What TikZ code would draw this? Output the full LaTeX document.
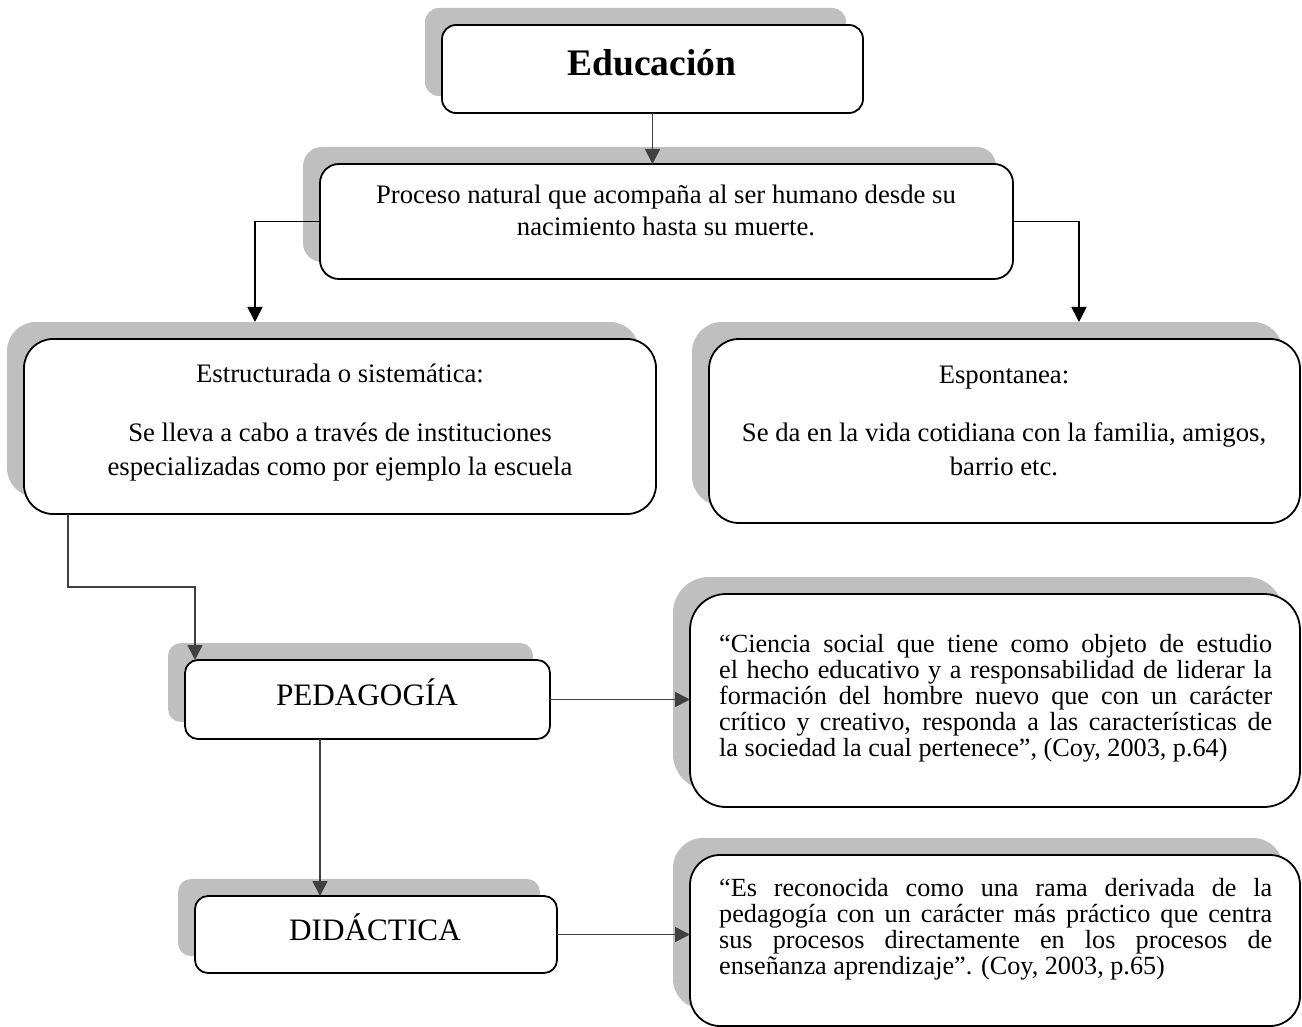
\documentclass[tikz,border=0pt]{standalone}
\usepackage{fontspec}
\setmainfont{Liberation Serif}
\usetikzlibrary{arrows.meta}
\definecolor{shd}{HTML}{BFBFBF}
\definecolor{arrg}{HTML}{404040}
\tikzset{
  box/.style={draw=black, line width=1.8pt, fill=white, rectangle, inner sep=0pt, outer sep=0pt},
  shbox/.style={fill=shd, rectangle, inner sep=0pt, outer sep=0pt},
  txt/.style={inner sep=0pt, anchor=base, font=\fontsize{26.7}{32}\selectfont},
  qtxt/.style={inner sep=0pt, anchor=base west, font=\fontsize{26.2}{30}\selectfont},
  big/.style={inner sep=0pt, anchor=base, font=\fontsize{31.2}{36}\selectfont},
  arr/.style={line width=1.7pt, draw=black, -{Triangle[width=15pt,length=15pt]}},
  garr/.style={line width=1.7pt, draw=arrg, -{Triangle[width=15pt,length=15pt]}},
}
\newcommand\mkbox[6]{%
  \node[shbox, rounded corners=#6, minimum width={#4-#2}, minimum height={#5-#3}] (#1sh) at ({(#2+#4)/2-17},{(#3+#5)/2-17}) {};
  \node[box, rounded corners=#6, minimum width={#4-#2}, minimum height={#5-#3}] (#1) at ({(#2+#4)/2},{(#3+#5)/2}) {};}
\begin{document}
\begin{tikzpicture}[x=1pt,y=-1pt]
\useasboundingbox (0,0) rectangle (1302,1027);
% boxes
\mkbox{edu}{442}{25}{863}{113}{14}
\mkbox{proc}{320}{164}{1013}{279}{19}
\mkbox{estr}{24}{339}{656}{514}{29}
\mkbox{esp}{709}{339}{1300}{523}{30}
\mkbox{ped}{185}{660}{550}{739}{13}
\mkbox{did}{195}{896}{557}{973}{13}
\mkbox{qa}{690}{594}{1300}{807}{36}
\mkbox{qb}{690}{855}{1300}{1026}{30}
% texts
\node[txt, font=\bfseries\fontsize{37.5}{42}\selectfont] (tedu) at (652,76) {Educación};
\node[txt] (tproc1) at (666,204) {Proceso natural que acompaña al ser humano desde su};
\node[txt] (tproc2) at (666,236) {nacimiento hasta su muerte.};
\node[txt] (testr1) at (340,382) {Estructurada o sistemática:};
\node[txt] (testr2) at (340,441) {Se lleva a cabo a través de instituciones};
\node[txt] (testr3) at (340,475) {especializadas como por ejemplo la escuela};
\node[txt] (tesp1) at (1004,383) {Espontanea:};
\node[txt] (tesp2) at (1004,441) {Se da en la vida cotidiana con la familia, amigos,};
\node[txt] (tesp3) at (1004,475) {barrio etc.};
\node[big] (tped) at (367,705) {PEDAGOGÍA};
\node[big] (tdid) at (375,940) {DIDÁCTICA};
\node[qtxt] (tqa1) at (719,652) {\makebox[553pt][s]{“Ciencia social que tiene como objeto de estudio}};
\node[qtxt] (tqa2) at (719,678) {\makebox[553pt][s]{el hecho educativo y a responsabilidad de liderar la}};
\node[qtxt] (tqa3) at (719,704) {\makebox[553pt][s]{formación del hombre nuevo que con un carácter}};
\node[qtxt] (tqa4) at (719,730) {\makebox[553pt][s]{crítico y creativo, responda a las características de}};
\node[qtxt] (tqa5) at (719,756) {la sociedad la cual pertenece”, (Coy, 2003, p.64)};
\node[qtxt] (tqb1) at (719,896) {\makebox[553pt][s]{“Es reconocida como una rama derivada de la}};
\node[qtxt] (tqb2) at (719,922) {\makebox[553pt][s]{pedagogía con un carácter más práctico que centra}};
\node[qtxt] (tqb3) at (719,948) {\makebox[553pt][s]{sus procesos directamente en los procesos de}};
\node[qtxt] (tqb4) at (719,974) {enseñanza aprendizaje”. (Coy, 2003, p.65)};
% connectors
\coordinate (kL) at (255,0);
\coordinate (kR) at (1079,0);
\coordinate (kE) at (68,587);
\coordinate (kP) at (195,0);
\coordinate (kD) at (320,0);
\draw[garr] (edu.south) -- (edu.south |- proc.north);
\draw[arr] (proc.west) -| (kL |- estrsh.north);
\draw[arr] (proc.east) -| (kR |- espsh.north);
\draw[garr] (kE |- estr.south) -- (kE) -| (kP |- ped.north);
\draw[garr] (kD |- ped.south) -- (kD |- did.north);
\draw[garr] (ped.east) -- (ped.east -| qa.west);
\draw[garr] (did.east) -- (did.east -| qb.west);
\end{tikzpicture}
\end{document}
